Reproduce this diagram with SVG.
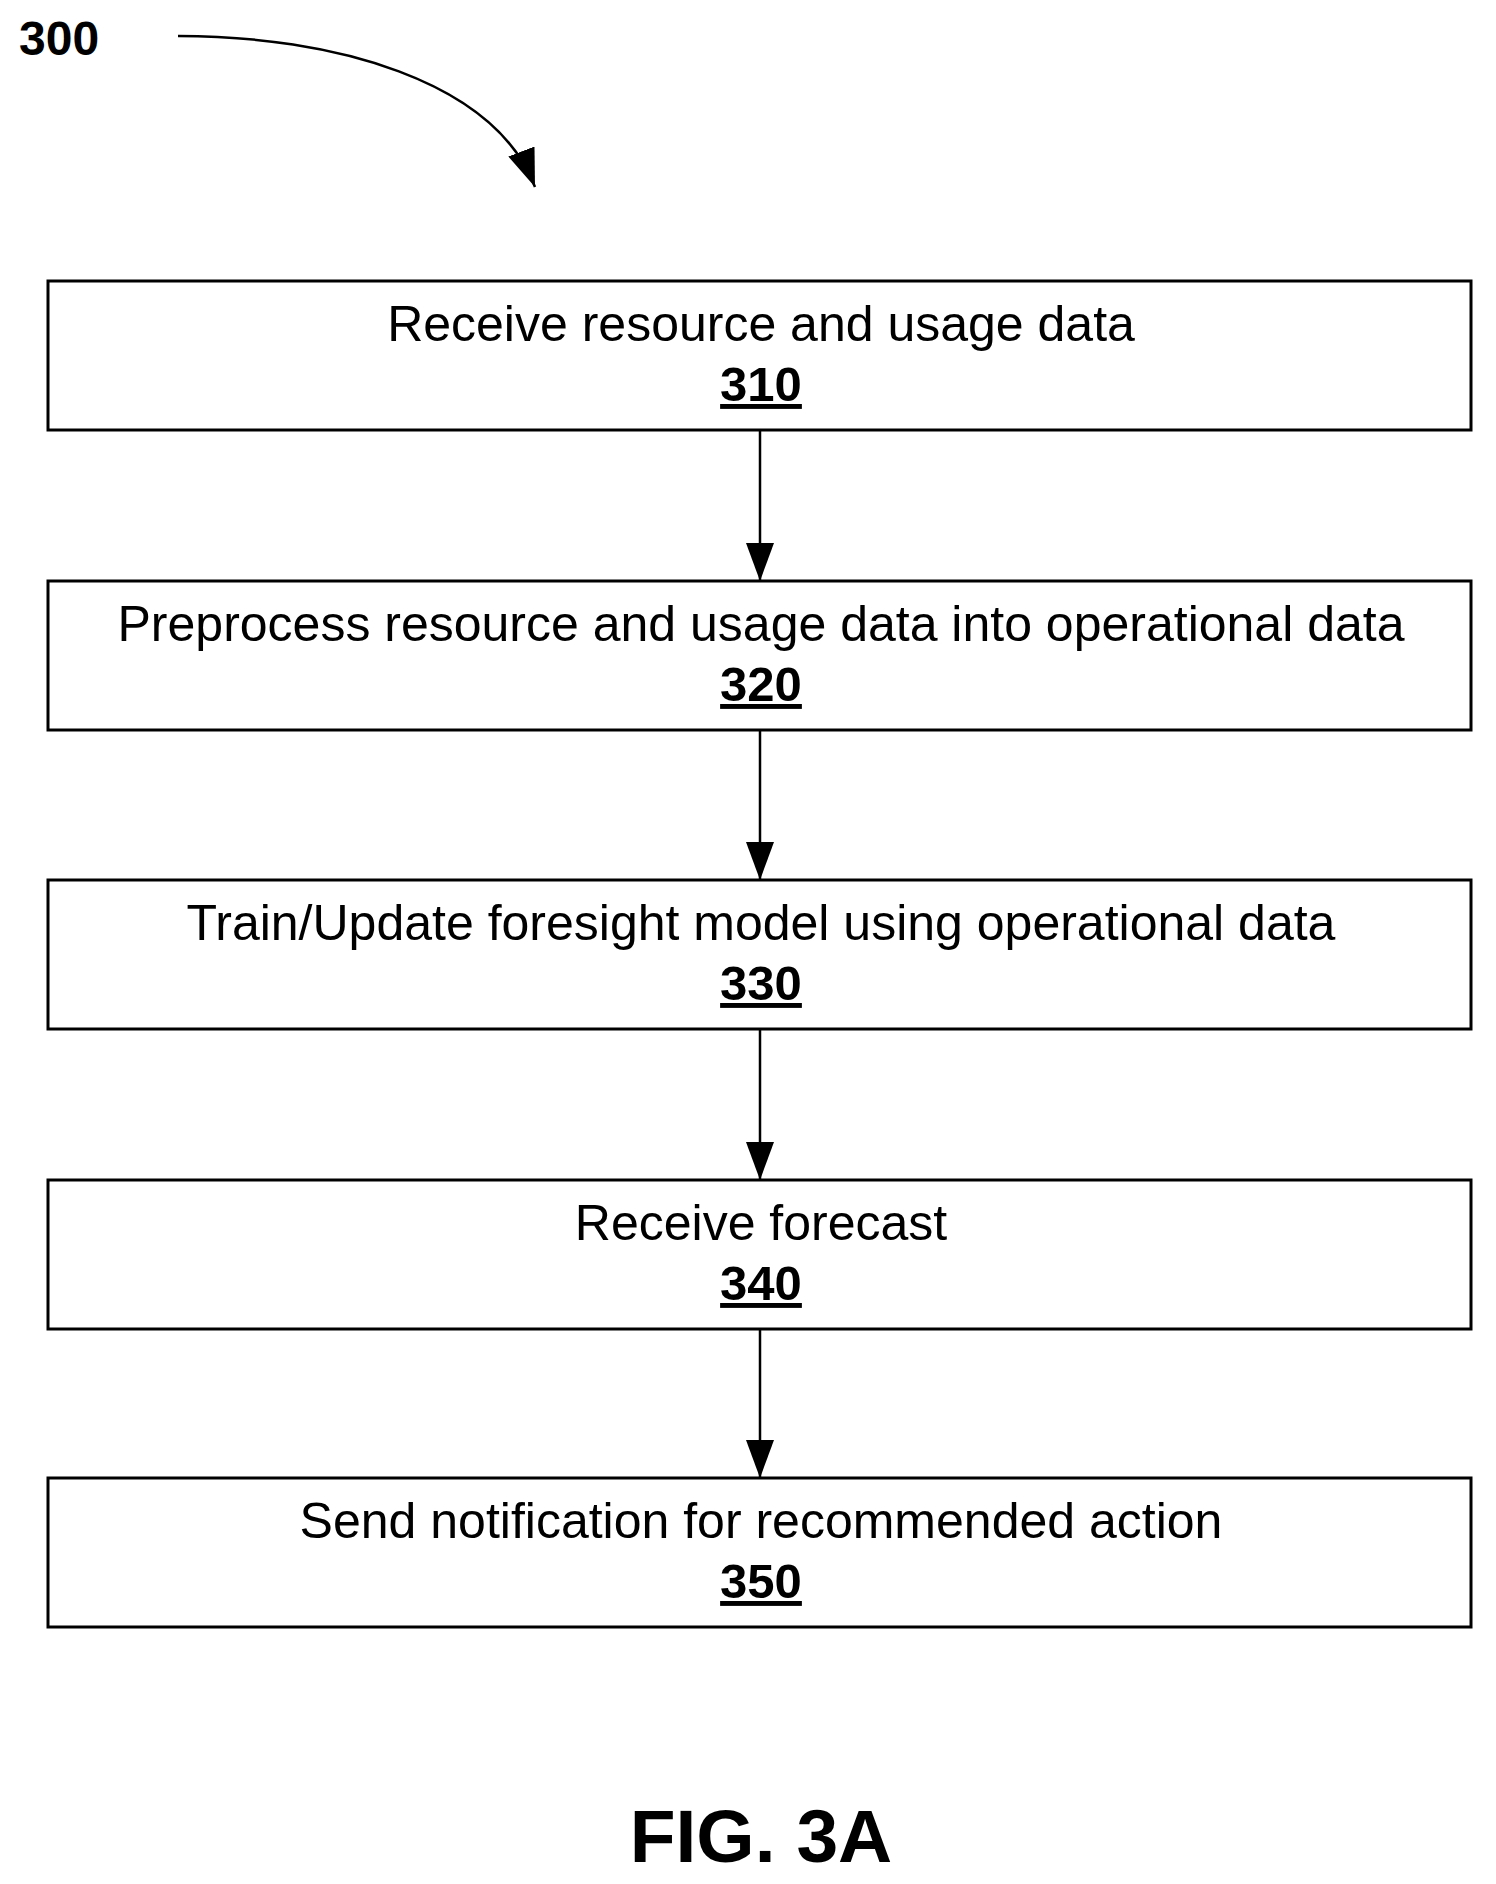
<svg xmlns="http://www.w3.org/2000/svg" width="1496" height="1884" viewBox="0 0 1496 1884">
<style>
.box{fill:#fff;stroke:#000;stroke-width:3}
.t{font-family:"Liberation Sans",Arial,sans-serif;font-size:50px;text-anchor:middle}
.n{font-family:"Liberation Sans",Arial,sans-serif;font-size:49px;font-weight:bold;text-anchor:middle;text-decoration:underline}
.c{stroke:#000;stroke-width:2.5;fill:none}
</style>
<defs>
<marker id="a2" viewBox="0 0 38 28" refX="38" refY="14" markerWidth="38" markerHeight="28" orient="auto" markerUnits="userSpaceOnUse"><path d="M0,0 L38,14 L0,28 z" fill="#000"/></marker></defs>
<rect width="1496" height="1884" fill="#fff"/>
<text x="19" y="55" font-family="'Liberation Sans',Arial,sans-serif" font-size="48" font-weight="bold">300</text>
<g id="connectors">
<path class="c" d="M178,36 C332,36 494,80 535,187" marker-end="url(#a2)"/>
<line class="c" x1="760" y1="430" x2="760" y2="581" marker-end="url(#a2)"/>
<line class="c" x1="760" y1="730" x2="760" y2="880" marker-end="url(#a2)"/>
<line class="c" x1="760" y1="1029" x2="760" y2="1180" marker-end="url(#a2)"/>
<line class="c" x1="760" y1="1329" x2="760" y2="1478" marker-end="url(#a2)"/>
</g>
<g id="n310"><rect class="box" x="48" y="281" width="1423" height="149"/><text class="t" x="761" y="341">Receive resource and usage data</text><text class="n" x="761" y="401">310</text></g>
<g id="n320"><rect class="box" x="48" y="581" width="1423" height="149"/><text class="t" x="761" y="641">Preprocess resource and usage data into operational data</text><text class="n" x="761" y="701">320</text></g>
<g id="n330"><rect class="box" x="48" y="880" width="1423" height="149"/><text class="t" x="761" y="940">Train/Update foresight model using operational data</text><text class="n" x="761" y="1000">330</text></g>
<g id="n340"><rect class="box" x="48" y="1180" width="1423" height="149"/><text class="t" x="761" y="1240">Receive forecast</text><text class="n" x="761" y="1300">340</text></g>
<g id="n350"><rect class="box" x="48" y="1478" width="1423" height="149"/><text class="t" x="761" y="1538">Send notification for recommended action</text><text class="n" x="761" y="1598">350</text></g>
<text x="761" y="1862" text-anchor="middle" font-family="'Liberation Sans',Arial,sans-serif" font-size="75" font-weight="bold">FIG. 3A</text>
</svg>
